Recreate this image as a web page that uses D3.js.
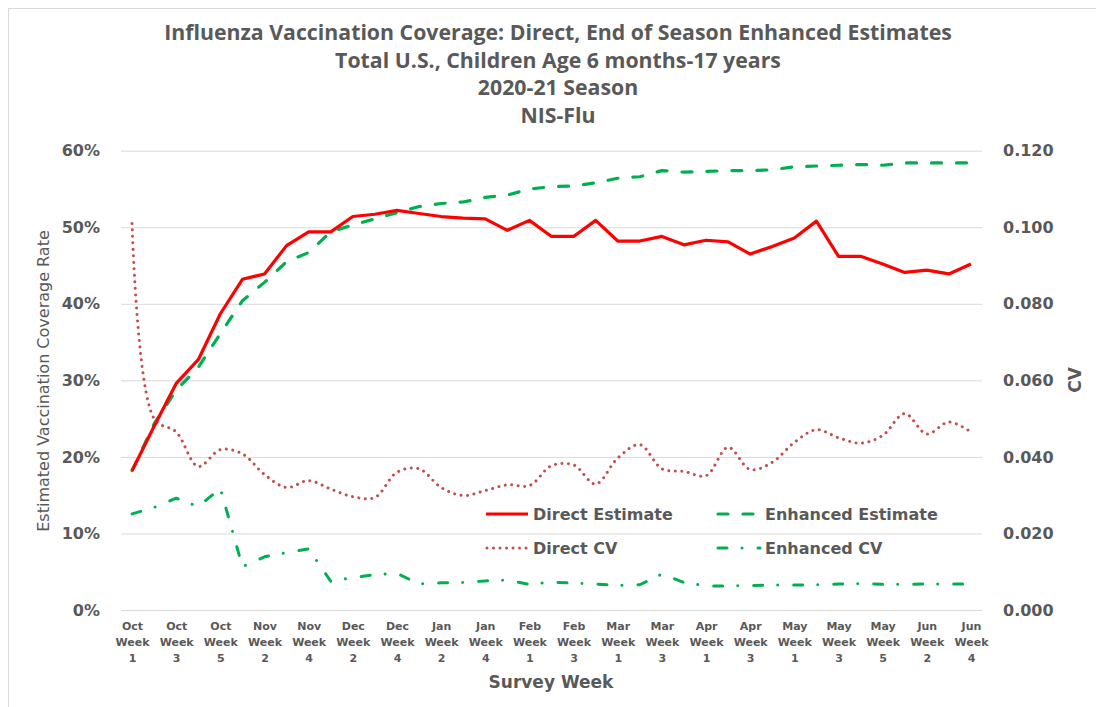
<!DOCTYPE html>
<html>
<head>
<meta charset="utf-8">
<script src="https://d3js.org/d3.v7.min.js"></script>
<style>
    body { margin: 0; background: #fff; }
    text { fill: #595959; font-family: "DejaVu Sans", sans-serif; }
    .grid line { stroke: #D9D9D9; stroke-width: 1; }
    .grid .domain { display: none; }
    .axis .domain { display: none; }
    .axis text { font-weight: bold; }
    .series { fill: none; }
</style>
</head>
<body>
<svg width="1096" height="707"></svg>
<script>
// survey weeks (categories)
var weeks = [
    "Oct Week 1", "Oct Week 2", "Oct Week 3", "Oct Week 4", "Oct Week 5",
    "Nov Week 1", "Nov Week 2", "Nov Week 3", "Nov Week 4",
    "Dec Week 1", "Dec Week 2", "Dec Week 3", "Dec Week 4",
    "Jan Week 1", "Jan Week 2", "Jan Week 3", "Jan Week 4", "Jan Week 5",
    "Feb Week 1", "Feb Week 2", "Feb Week 3", "Feb Week 4",
    "Mar Week 1", "Mar Week 2", "Mar Week 3", "Mar Week 4",
    "Apr Week 1", "Apr Week 2", "Apr Week 3", "Apr Week 4",
    "May Week 1", "May Week 2", "May Week 3", "May Week 4", "May Week 5",
    "Jun Week 1", "Jun Week 2", "Jun Week 3", "Jun Week 4"
];

// coverage, percent
var directEstimate = [18.2, 24.0, 29.6, 32.7, 38.7, 43.2, 43.9, 47.6, 49.4, 49.4,
    51.4, 51.7, 52.2, 51.8, 51.4, 51.2, 51.1, 49.6, 50.9, 48.8,
    48.8, 50.9, 48.2, 48.2, 48.8, 47.7, 48.3, 48.1, 46.5, 47.5,
    48.6, 50.8, 46.2, 46.2, 45.2, 44.1, 44.4, 43.9, 45.2];
var enhancedEstimate = [18.2, 24.3, 28.7, 31.7, 36.1, 40.4, 42.8, 45.5, 46.7, 49.4,
    50.3, 51.1, 51.9, 52.7, 53.1, 53.3, 53.9, 54.2, 55.0, 55.3,
    55.4, 55.8, 56.4, 56.6, 57.4, 57.2, 57.3, 57.4, 57.4, 57.5,
    57.9, 58.0, 58.1, 58.2, 58.1, 58.4, 58.4, 58.4, 58.4];

// coefficient of variation
var directCV = [0.101, 0.050, 0.0465, 0.0375, 0.0419, 0.0408, 0.0354, 0.0320, 0.0338, 0.0316,
    0.0296, 0.0294, 0.0360, 0.0369, 0.0320, 0.0299, 0.0312, 0.0327, 0.0325, 0.0377,
    0.0379, 0.0329, 0.0397, 0.0432, 0.0369, 0.0362, 0.0351, 0.0425, 0.0367, 0.0386,
    0.0438, 0.0471, 0.0450, 0.0436, 0.0456, 0.0513, 0.0460, 0.0491, 0.0465];
var enhancedCV = [0.0251, 0.0268, 0.0292, 0.0270, 0.0318, 0.0113, 0.0139, 0.0150, 0.0160, 0.0075,
    0.0085, 0.0092, 0.0096, 0.0068, 0.0071, 0.0072, 0.0076, 0.0078, 0.0067, 0.0073,
    0.0070, 0.0068, 0.0064, 0.0066, 0.0094, 0.0072, 0.0063, 0.0063, 0.0064, 0.0065,
    0.0065, 0.0066, 0.0068, 0.0069, 0.0067, 0.0067, 0.0068, 0.0068, 0.0068];

var leftTicks = [0, 10, 20, 30, 40, 50, 60];
var rightTicks = [0, 0.02, 0.04, 0.06, 0.08, 0.10, 0.12];
var titleLines = [
    "Influenza Vaccination Coverage: Direct, End of Season Enhanced Estimates",
    "Total U.S., Children Age 6 months-17 years",
    "2020-21 Season",
    "NIS-Flu"
];

var svg = d3.select("svg");
var plotLeft = 121, plotRight = 982, plotTop = 150.7, plotBottom = 610;

var x = d3.scalePoint().domain(weeks).range([plotLeft, plotRight]).padding(0.5);
var y = d3.scaleLinear().domain([0, 60]).range([plotBottom, plotTop]);
var y2 = d3.scaleLinear().domain([0, 0.12]).range([plotBottom, plotTop]);

// outer frame
svg.append("rect")
    .attr("x", 8.5).attr("y", 8.5)
    .attr("width", 1100).attr("height", 710)
    .attr("fill", "none").attr("stroke", "#D9D9D9");

// title
var title = svg.append("g").attr("class", "title");
var tl = title.selectAll("text").data(titleLines).enter().append("text")
    .attr("x", 558)
    .attr("y", function(d, i) { return 40 + i * 27.7; })
    .attr("text-anchor", "middle")
    .style("font-family", "'Open Sans', sans-serif")
    .style("font-weight", "bold")
    .style("font-size", "19px")
    .text(function(d) { return d; });
// fit first line width to the reference, use same size for all
var w0 = tl.node().getComputedTextLength();
tl.style("font-size", (19 * 788 / w0) + "px");

// gridlines
svg.append("g")
    .attr("class", "grid")
    .attr("transform", "translate(" + plotLeft + ",0)")
    .call(d3.axisLeft(y).tickValues(leftTicks).tickSize(-(plotRight - plotLeft)).tickFormat(""));

// left axis
svg.append("g")
    .attr("class", "axis")
    .attr("transform", "translate(" + plotLeft + ",0)")
    .call(d3.axisLeft(y).tickValues(leftTicks).tickSize(0).tickPadding(21)
        .tickFormat(function(d) { return d + "%"; }))
    .selectAll("text").style("font-size", "16px");

// right axis
svg.append("g")
    .attr("class", "axis")
    .attr("transform", "translate(" + plotRight + ",0)")
    .call(d3.axisRight(y2).tickValues(rightTicks).tickSize(0).tickPadding(21)
        .tickFormat(d3.format(".3f")))
    .selectAll("text").style("font-size", "16px");

// bottom axis, three line labels
var xAxis = svg.append("g")
    .attr("class", "axis")
    .attr("transform", "translate(0," + plotBottom + ")")
    .call(d3.axisBottom(x)
        .tickValues(weeks.filter(function(d, i) { return i % 2 === 0; }))
        .tickSize(0));
xAxis.selectAll("text").each(function(d) {
    var t = d3.select(this), parts = d.split(" ");
    t.text(null).attr("y", 0).attr("dy", null).style("font-size", "11px");
    t.append("tspan").attr("x", 0).attr("y", 20).text(parts[0]);
    t.append("tspan").attr("x", 0).attr("y", 36).text(parts[1]);
    t.append("tspan").attr("x", 0).attr("y", 52).text(parts[2]);
});

// axis titles
svg.append("text")
    .attr("transform", "translate(49,381) rotate(-90)")
    .attr("text-anchor", "middle")
    .style("font-size", "16px")
    .text("Estimated Vaccination Coverage Rate");
svg.append("text")
    .attr("transform", "translate(1081,380) rotate(-90)")
    .attr("text-anchor", "middle")
    .style("font-size", "17px").style("font-weight", "bold")
    .text("CV");
svg.append("text")
    .attr("x", 551).attr("y", 688)
    .attr("text-anchor", "middle")
    .style("font-size", "17px").style("font-weight", "bold")
    .text("Survey Week");

// series
var lineLeft = d3.line()
    .x(function(d, i) { return x(weeks[i]); })
    .y(function(d) { return y(d); });
var lineRight = d3.line()
    .x(function(d, i) { return x(weeks[i]); })
    .y(function(d) { return y2(d); });

var styles = {
    directCV: { stroke: "#C0504D", width: 3, dash: "0.01,6.5", cap: "round" },
    enhancedCV: { stroke: "#00B050", width: 3, dash: "9,15,0.01,16", cap: "round" },
    enhancedEstimate: { stroke: "#00B050", width: 3.2, dash: "10,15", cap: "round" },
    directEstimate: { stroke: "#FF0000", width: 3.2, dash: null, cap: "butt" }
};

function draw(path, s) {
    path.attr("class", "series")
        .attr("stroke", s.stroke)
        .attr("stroke-width", s.width)
        .attr("stroke-dasharray", s.dash)
        .attr("stroke-linecap", s.cap)
        .attr("stroke-linejoin", "round");
}

svg.append("path").datum(directCV)
    .attr("d", lineRight.curve(d3.curveCatmullRom.alpha(0.5)))
    .call(draw, styles.directCV);
lineRight.curve(d3.curveLinear);
svg.append("path").datum(enhancedCV).attr("d", lineRight).call(draw, styles.enhancedCV);
svg.append("path").datum(enhancedEstimate).attr("d", lineLeft).call(draw, styles.enhancedEstimate);
svg.append("path").datum(directEstimate).attr("d", lineLeft).call(draw, styles.directEstimate);

// legend
var legendItems = [
    { name: "Direct Estimate", key: "directEstimate", x: 486, y: 514, len: 42 },
    { name: "Enhanced Estimate", key: "enhancedEstimate", x: 718, y: 514, len: 40 },
    { name: "Direct CV", key: "directCV", x: 487, y: 548, len: 40 },
    { name: "Enhanced CV", key: "enhancedCV", x: 718, y: 548, len: 42 }
];
var lg = svg.append("g").attr("class", "legend")
    .selectAll("g").data(legendItems).enter().append("g");
lg.append("line")
    .attr("x1", function(d) { return d.x; })
    .attr("x2", function(d) { return d.x + d.len; })
    .attr("y1", function(d) { return d.y; })
    .attr("y2", function(d) { return d.y; })
    .each(function(d) { d3.select(this).call(draw, styles[d.key]); });
lg.append("text")
    .attr("x", function(d) { return d.key.indexOf("enhanced") === 0 ? 765 : 533; })
    .attr("y", function(d) { return d.y; })
    .attr("dy", "0.36em")
    .style("font-size", "16px").style("font-weight", "bold")
    .text(function(d) { return d.name; });
</script>
</body>
</html>
